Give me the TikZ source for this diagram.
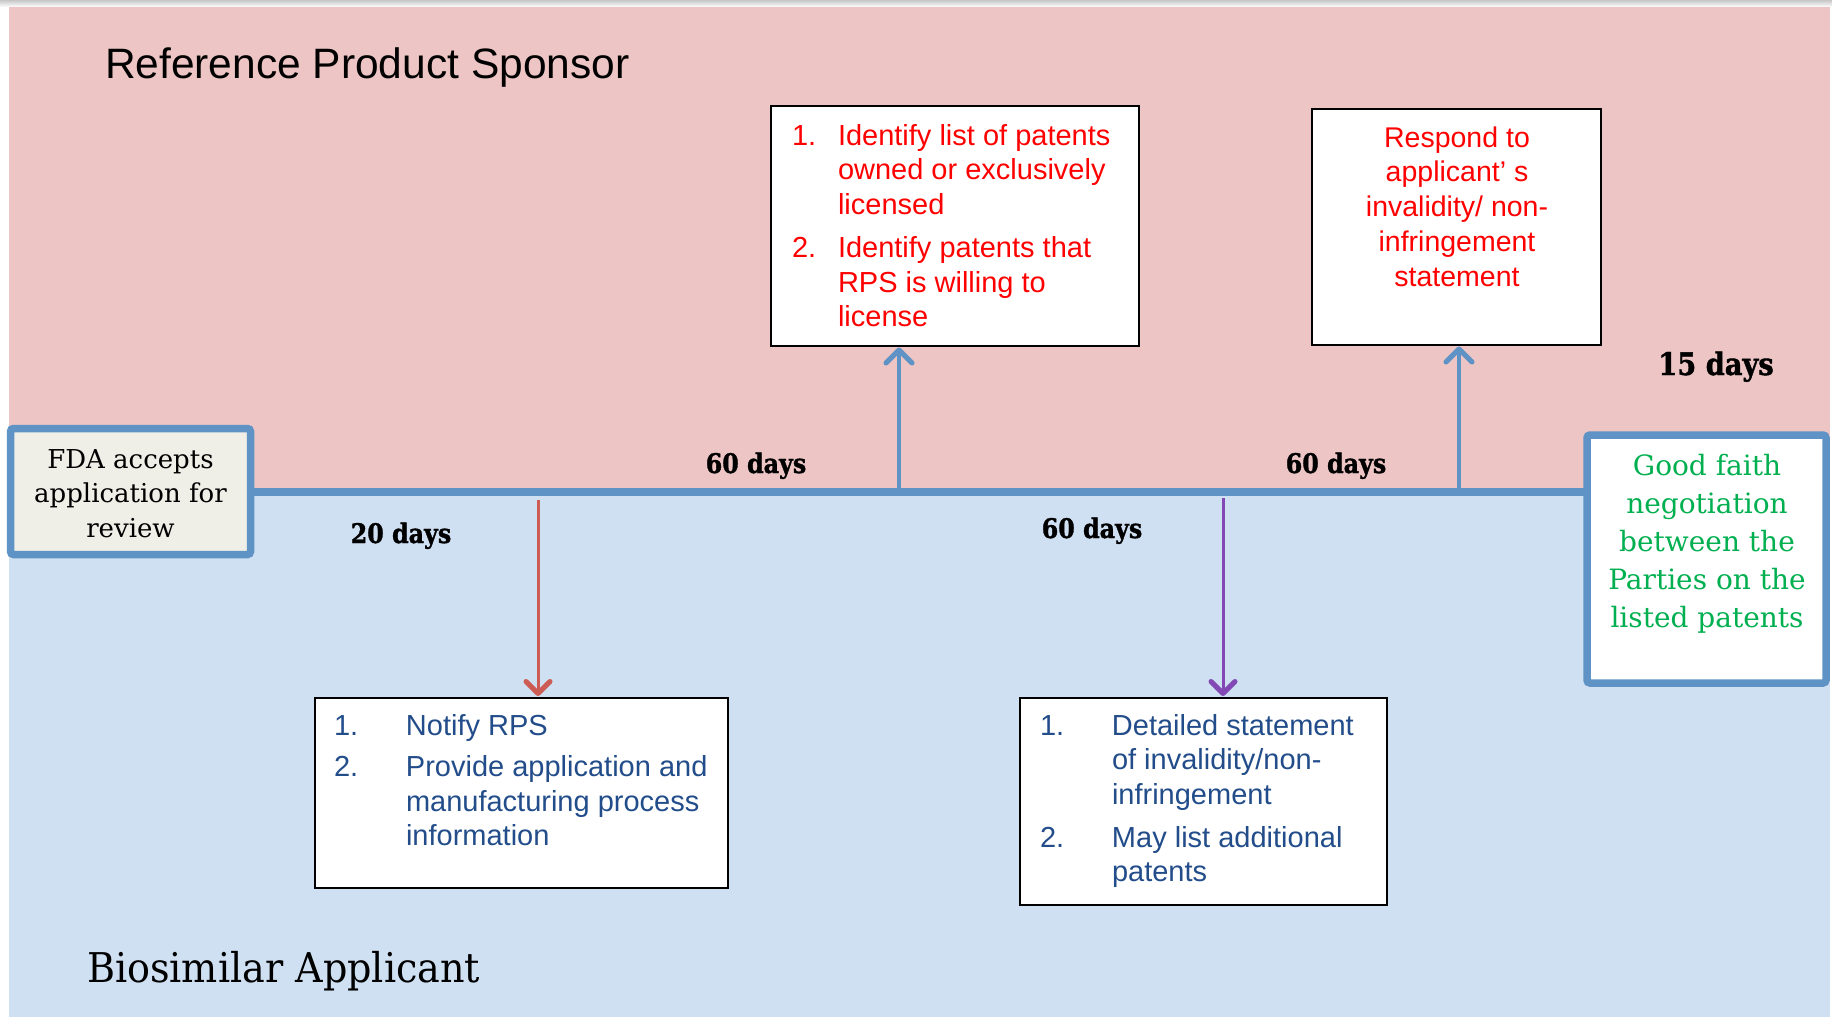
\documentclass[tikz,border=0pt]{standalone}
\usepackage{fontspec}
\setmainfont{Liberation Sans}
\newfontfamily\slab{DejaVu Serif}
\newfontfamily\slabtitle[FakeStretch=0.93]{DejaVu Serif}
\newfontfamily\daysfont[FakeStretch=0.88, BoldFeatures={FakeBold=1.2}]{DejaVu Serif}
\usetikzlibrary{arrows.meta}
\definecolor{pinkbg}{RGB}{236,197,196}
\definecolor{bluebg}{RGB}{207,224,242}
\definecolor{tlblue}{RGB}{95,146,197}
\definecolor{fdafill}{RGB}{239,238,231}
\definecolor{textblue}{RGB}{34,77,138}
\definecolor{greentxt}{RGB}{0,176,80}
\definecolor{redarrow}{RGB}{205,92,85}
\definecolor{purplearrow}{RGB}{130,72,180}
\definecolor{redtxt}{RGB}{255,0,0}
\begin{document}
\begin{tikzpicture}[x=1pt,y=-1pt,
  every node/.style={inner sep=0pt, outer sep=0pt},
  listbox/.style={draw=black, line width=2.5pt, fill=white, rectangle, anchor=north west},
  bluebox/.style={draw=tlblue, line width=7.5pt, rounded corners=3pt, rectangle, anchor=north west},
  daylabel/.style={font=\daysfont\bfseries\fontsize{27}{32}\selectfont, anchor=base},
  listtext/.style={anchor=base west, font=\fontsize{29}{34.5}\selectfont},
  uparrow/.style={draw=tlblue, line width=4pt, shorten >=1.5pt, -{Straight Barb[length=13pt,width=26pt,line width=5pt,round]}},
  downarrow/.style={line width=3pt, shorten >=2pt, -{Straight Barb[length=12pt,width=24pt,line width=5pt,round]}}
]
\useasboundingbox (0,0) rectangle (1832,1017);
% backgrounds
\shade[top color=black!22, bottom color=white] (0,0) rectangle (1832,7);
\fill[pinkbg] (9,7) rectangle (1830,493);
\fill[bluebg] (9,493) rectangle (1830,1017);

% titles
\node[anchor=base west, font=\fontsize{42.5}{50}\selectfont] (rpsT) at (105,78) {Reference Product Sponsor};
\node[anchor=base west, font=\slabtitle\fontsize{41}{48}\selectfont] (baT) at (87,982) {Biosimilar Applicant};

% FDA box and green box
\node[bluebox, fill=fdafill, minimum width=240pt, minimum height=126pt] (fda) at (10.5,428.5) {};
\node[anchor=base, font=\slab\fontsize{26}{34.5}\selectfont] (fdaT) at (130.5,468)
  {\begin{tabular}[t]{@{}c@{}}FDA accepts\\application for\\review\end{tabular}};
\node[bluebox, fill=white, minimum width=239pt, minimum height=248pt] (green) at (1587,435) {};
\node[anchor=base, text=greentxt, font=\slab\fontsize{28}{38}\selectfont] (greenT) at (1707,475)
  {\begin{tabular}[t]{@{}c@{}}Good faith\\negotiation\\between the\\Parties on the\\listed patents\end{tabular}};

% timeline
\draw[tlblue, line width=8pt] (fda.east) -- (fda.east -| green.west);

% RPS boxes
\node[listbox, minimum width=368pt, minimum height=240pt] (rps1) at (771,106) {};
\node[listtext, text=redtxt] (rps1T) at (792,145)
  {\begin{tabular}[t]{@{}p{46pt}@{}l@{}}1. & Identify list of patents\\ & owned or exclusively\\ & licensed\\[9pt]
   2. & Identify patents that\\ & RPS is willing to\\ & license\end{tabular}};
\node[listbox, minimum width=289pt, minimum height=236pt] (rps2) at (1312,109) {};
\node[anchor=base, text=redtxt, font=\fontsize{28.5}{34.75}\selectfont] (rps2T) at (1457,147)
  {\begin{tabular}[t]{@{}c@{}}Respond to\\applicant’ s\\invalidity/ non-\\infringement\\statement\end{tabular}};

% Applicant boxes
\node[listbox, minimum width=413pt, minimum height=190pt] (ntf) at (315,698) {};
\node[listtext, text=textblue] (ntfT) at (334,735)
  {\begin{tabular}[t]{@{}p{72pt}@{}l@{}}1. & Notify RPS\\[7pt]
   2. & Provide application and\\ & manufacturing process\\ & information\end{tabular}};
\node[listbox, minimum width=367pt, minimum height=207pt] (det) at (1020,698) {};
\node[listtext, text=textblue] (detT) at (1040,735)
  {\begin{tabular}[t]{@{}p{72pt}@{}l@{}}1. & Detailed statement\\ & of invalidity/non-\\ & infringement\\[8.5pt]
   2. & May list additional\\ & patents\end{tabular}};

% day labels
\node[daylabel] (d20) at (401,543) {20 days};
\node[daylabel] (d60a) at (756,473) {60 days};
\node[daylabel] (d60b) at (1092,538) {60 days};
\node[daylabel] (d60c) at (1336,473) {60 days};
\node[daylabel, font=\daysfont\bfseries\fontsize{31}{36}\selectfont] (d15) at (1716,375) {15 days};

% connectors
\coordinate (t1) at (899,491.5);
\coordinate (t2) at (1459,491.5);
\coordinate (b1) at (538,500);
\coordinate (b2) at (1223,498);
\draw[uparrow] (t1) -- (t1 |- rps1.south);
\draw[uparrow] (t2) -- (t2 |- rps2.south);
\draw[downarrow, draw=redarrow] (b1) -- (b1 |- ntf.north);
\draw[downarrow, draw=purplearrow] (b2) -- (b2 |- det.north);
\end{tikzpicture}
\end{document}
